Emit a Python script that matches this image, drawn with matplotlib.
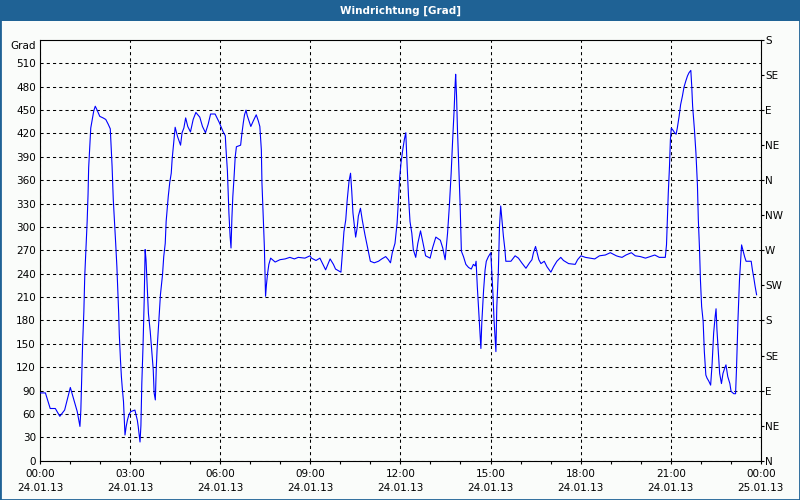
import matplotlib
matplotlib.use('Agg')
import matplotlib.pyplot as plt
from matplotlib.patches import Rectangle
from matplotlib.ticker import MultipleLocator

title = "Windrichtung [Grad]"

hours = [
    0.0, 0.18, 0.34, 0.51, 0.66, 0.82, 1.01, 1.16, 1.24, 1.33, 1.36, 1.39, 1.42, 1.46, 1.49,
    1.53, 1.57, 1.60, 1.62, 1.66, 1.69, 1.74, 1.79, 1.84, 1.89, 1.99, 2.10, 2.19, 2.27, 2.34,
    2.40, 2.44, 2.49, 2.52, 2.56, 2.59, 2.62, 2.64, 2.68, 2.71, 2.74, 2.78, 2.80, 2.83, 2.87,
    2.91, 2.96, 3.02, 3.16, 3.24, 3.27, 3.33, 3.36, 3.39, 3.43, 3.47, 3.50, 3.53, 3.58, 3.61,
    3.67, 3.71, 3.77, 3.80, 3.84, 3.87, 3.90, 3.94, 3.98, 4.01, 4.08, 4.12, 4.17, 4.20, 4.27,
    4.32, 4.37, 4.40, 4.44, 4.47, 4.50, 4.54, 4.58, 4.68, 4.73, 4.79, 4.85, 4.92, 5.01, 5.10,
    5.19, 5.32, 5.41, 5.51, 5.60, 5.68, 5.83, 5.97, 6.10, 6.17, 6.19, 6.24, 6.29, 6.33, 6.36,
    6.39, 6.42, 6.46, 6.50, 6.54, 6.68, 6.72, 6.77, 6.81, 6.86, 6.90, 7.02, 7.10, 7.20, 7.27,
    7.32, 7.37, 7.39, 7.43, 7.47, 7.49, 7.51, 7.54, 7.58, 7.62, 7.68, 7.83, 7.99, 8.16, 8.32,
    8.47, 8.60, 8.82, 8.99, 9.04, 9.19, 9.32, 9.41, 9.51, 9.66, 9.77, 9.84, 10.02, 10.07, 10.12,
    10.18, 10.23, 10.29, 10.34, 10.38, 10.42, 10.47, 10.51, 10.56, 10.60, 10.67, 10.73, 10.82, 10.91, 11.00,
    11.13, 11.27, 11.38, 11.51, 11.60, 11.67, 11.73, 11.82, 11.89, 11.93, 11.98, 12.02, 12.07, 12.13, 12.18,
    12.22, 12.27, 12.32, 12.38, 12.43, 12.51, 12.58, 12.67, 12.74, 12.84, 12.99, 13.07, 13.18, 13.33, 13.41,
    13.49, 13.57, 13.63, 13.69, 13.74, 13.79, 13.82, 13.84, 13.87, 13.90, 13.94, 13.99, 14.03, 14.10, 14.18,
    14.27, 14.36, 14.43, 14.49, 14.52, 14.56, 14.60, 14.63, 14.68, 14.71, 14.77, 14.82, 14.86, 14.93, 15.01,
    15.04, 15.08, 15.12, 15.16, 15.18, 15.21, 15.26, 15.30, 15.34, 15.38, 15.43, 15.48, 15.51, 15.68, 15.82,
    15.93, 16.04, 16.18, 16.30, 16.38, 16.43, 16.50, 16.54, 16.61, 16.68, 16.79, 16.88, 17.01, 17.10, 17.21,
    17.34, 17.43, 17.60, 17.82, 17.90, 18.01, 18.16, 18.32, 18.47, 18.63, 18.82, 18.99, 19.19, 19.27, 19.38,
    19.51, 19.69, 19.82, 19.99, 20.16, 20.32, 20.47, 20.62, 20.82, 20.86, 20.89, 20.92, 20.96, 20.99, 21.02,
    21.08, 21.13, 21.18, 21.22, 21.28, 21.33, 21.39, 21.44, 21.50, 21.56, 21.61, 21.67, 21.70, 21.73, 21.79,
    21.84, 21.89, 21.92, 21.96, 21.99, 22.03, 22.08, 22.12, 22.17, 22.21, 22.27, 22.33, 22.38, 22.43, 22.48,
    22.51, 22.54, 22.59, 22.63, 22.69, 22.74, 22.80, 22.84, 22.90, 22.97, 23.01, 23.10, 23.16, 23.19, 23.24,
    23.29, 23.33, 23.36, 23.40, 23.46, 23.51, 23.58, 23.68, 23.72, 23.77, 23.81, 23.86,
]

degrees = [
    87, 87, 67, 67, 57, 65, 94, 74, 63, 44, 65, 108, 151, 191, 237,
    273, 307, 342, 376, 406, 427, 438, 449, 455, 451, 442, 440, 438, 432, 426,
    378, 335, 301, 279, 249, 219, 189, 162, 129, 108, 93, 76, 59, 33, 44,
    52, 59, 63, 65, 52, 44, 24, 45, 99, 147, 207, 271, 258, 215, 189,
    166, 147, 117, 87, 78, 117, 144, 168, 194, 213, 239, 262, 279, 307, 339,
    357, 369, 387, 404, 416, 428, 422, 416, 405, 421, 427, 440, 429, 422, 438,
    447, 441, 429, 421, 432, 445, 445, 434, 422, 417, 402, 372, 318, 288, 273,
    312, 339, 363, 390, 403, 405, 419, 434, 444, 450, 443, 429, 436, 444, 436,
    429, 399, 357, 316, 275, 243, 211, 226, 241, 252, 260, 255, 258, 259, 261,
    259, 261, 260, 263, 260, 257, 260, 253, 245, 259, 252, 246, 242, 267, 294,
    309, 335, 359, 369, 346, 318, 301, 287, 299, 314, 324, 309, 290, 273, 256,
    254, 256, 259, 262, 258, 254, 267, 279, 305, 331, 365, 382, 397, 412, 421,
    382, 339, 307, 292, 271, 261, 279, 295, 282, 263, 260, 273, 287, 283, 273,
    258, 292, 327, 369, 412, 451, 481, 496, 468, 425, 382, 327, 269, 262, 252,
    248, 246, 252, 250, 256, 224, 198, 177, 144, 177, 219, 245, 256, 262, 267,
    245, 215, 179, 153, 140, 198, 241, 301, 327, 309, 288, 271, 256, 256, 263,
    260, 254, 247, 254, 258, 267, 275, 269, 258, 253, 256, 249, 242, 249, 256,
    261, 257, 253, 252, 258, 263, 261, 260, 259, 263, 264, 267, 263, 262, 261,
    264, 267, 263, 262, 260, 262, 264, 261, 261, 277, 309, 344, 378, 412, 427,
    424, 421, 419, 427, 442, 457, 468, 479, 487, 494, 498, 501, 481, 455, 425,
    395, 354, 309, 271, 232, 198, 179, 140, 110, 106, 102, 97, 125, 164, 185,
    195, 168, 138, 112, 99, 112, 119, 123, 108, 99, 89, 86, 86, 117, 181,
    232, 258, 277, 271, 262, 256, 256, 256, 245, 234, 224, 213,
]

y_ticks = list(range(0, 511, 30))
y_unit_label = "Grad"
compass_ticks = list(range(0, 541, 45))
compass_labels = ["N", "NE", "E", "SE", "S", "SW", "W", "NW", "N", "NE", "E", "SE", "S"]
x_ticks = list(range(0, 25, 3))
x_labels = ["00:00\n24.01.13", "03:00\n24.01.13", "06:00\n24.01.13", "09:00\n24.01.13",
            "12:00\n24.01.13", "15:00\n24.01.13", "18:00\n24.01.13", "21:00\n24.01.13",
            "00:00\n25.01.13"]

bg = '#FAFCFA'
bar = '#1F6295'
fs = 7.5

plt.rcParams['font.family'] = ['DejaVu Sans']

fig = plt.figure(figsize=(8, 5), dpi=100, facecolor=bg)
ax = fig.add_axes([0.05, 0.0786, 0.901, 0.8414])
ax.set_facecolor(bg)

ax.plot(hours, degrees, color='#0000FF', lw=0.8, zorder=3)
ax.set_xlim(0, 24)
ax.set_ylim(0, 540)

ax.set_yticks(y_ticks)
ax.set_yticklabels([str(v) for v in y_ticks])
ax.tick_params(axis='y', which='both', length=0, pad=3, labelsize=fs)

ax.set_xticks(x_ticks)
ax.set_xticklabels(x_labels, linespacing=1.5)
ax.xaxis.set_minor_locator(MultipleLocator(1))
ax.tick_params(axis='x', which='both', direction='out', length=2.5, width=0.8, pad=3.5, labelsize=fs)

ax.grid(True, which='major', color='black', linestyle=(0, (3, 3)), lw=0.75)
for s in ax.spines.values():
    s.set_linewidth(0.8)
    s.set_color('black')

ax.annotate(y_unit_label, xy=(0, 540), xycoords=('axes fraction', 'data'),
            xytext=(-4, -6), textcoords='offset pixels', ha='right', va='center', fontsize=fs)

ax2 = ax.twinx()
ax2.set_ylim(0, 540)
ax2.set_yticks(compass_ticks)
ax2.set_yticklabels(compass_labels)
ax2.tick_params(axis='y', direction='out', length=2, width=0.8, pad=1, labelsize=fs)
for s in ax2.spines.values():
    s.set_visible(False)

fig.add_artist(Rectangle((0, 1 - 21 / 500), 1, 21 / 500, transform=fig.transFigure,
                         facecolor=bar, edgecolor='none'))
fig.text(0.5, 1 - 10.5 / 500, title, color='white', fontweight='bold', ha='center',
         va='center', fontsize=fs)
fig.add_artist(Rectangle((0, 0), 1, 1, transform=fig.transFigure, fill=False,
                         edgecolor=bar, lw=2))

fig.savefig('out.png', dpi=100, facecolor=bg)
